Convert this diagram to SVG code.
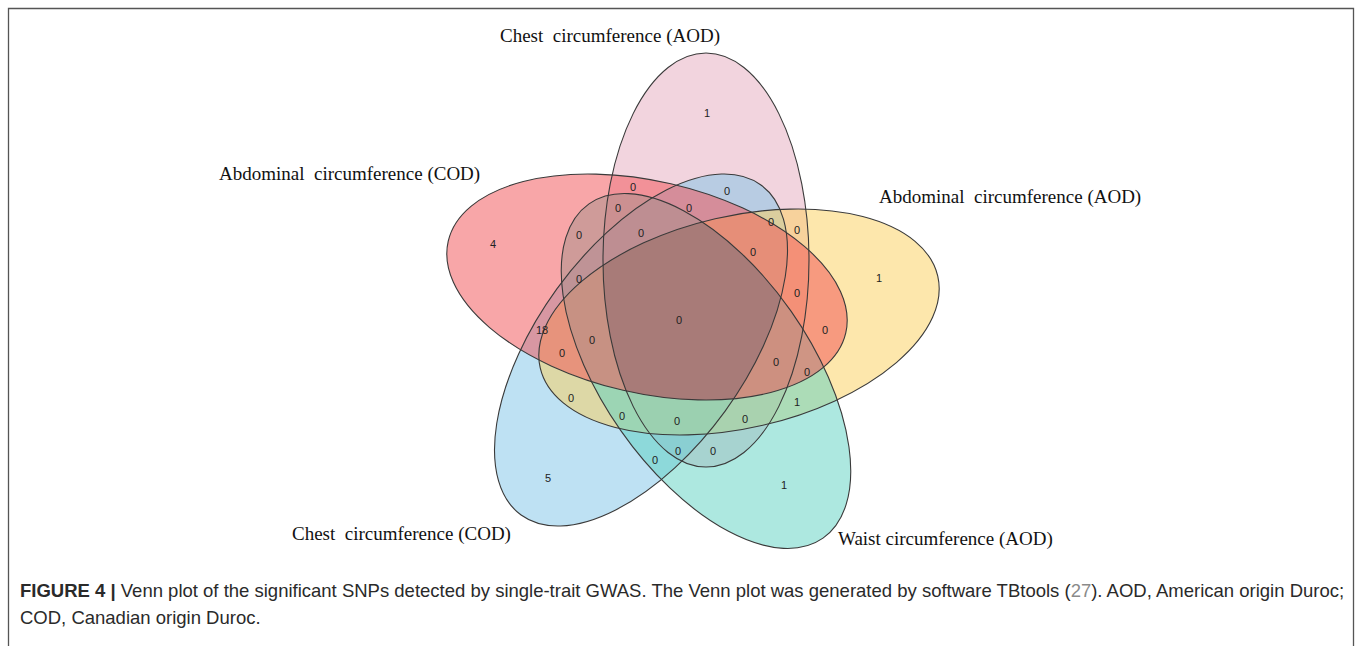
<svg xmlns="http://www.w3.org/2000/svg" width="1357" height="646" viewBox="0 0 1357 646">
<style>
.set{stroke:none;fill-opacity:0.5}
.edge{fill:none;stroke:#3a3a3a;stroke-width:1.1}
.lbl{font-family:"Liberation Serif","Times New Roman",serif;font-size:19px;fill:#111;white-space:pre}
.n{font-family:"Liberation Sans",Arial,sans-serif;font-size:11px;fill:#222;text-anchor:middle;dominant-baseline:central}
.cap{font-family:"Liberation Sans",Arial,sans-serif;font-size:18.5px;fill:#2a2a2a}
.frame{stroke:#555;stroke-width:1.3;fill:none}
</style>
<defs>
<clipPath id="cA"><ellipse cx="706" cy="260" rx="103" ry="207"/></clipPath>
<clipPath id="cB"><ellipse cx="641" cy="350" rx="204" ry="104" transform="rotate(-54 641 350)"/></clipPath>
<clipPath id="cC"><ellipse cx="706" cy="371" rx="204" ry="104" transform="rotate(55 706 371)"/></clipPath>
<clipPath id="cD"><ellipse cx="739" cy="322" rx="204" ry="106" transform="rotate(-13 739 322)"/></clipPath>
</defs>
<rect width="1357" height="646" fill="#fff"/>
<path class="frame" d="M8.5,646 V8.5 H1353.5 V646"/>

<g id="fills">
<ellipse class="set" cx="706" cy="260" rx="103" ry="207" fill="#E5A9BD"/>
<ellipse class="set" cx="641" cy="350" rx="204" ry="104" transform="rotate(-54 641 350)" fill="#7DC3E7"/>
<ellipse class="set" cx="739" cy="322" rx="204" ry="106" transform="rotate(-13 739 322)" fill="#FBCF59"/>
<ellipse class="set" cx="706" cy="371" rx="204" ry="104" transform="rotate(55 706 371)" fill="#5BD1C1"/>
<ellipse class="set" cx="647" cy="287" rx="204" ry="106" transform="rotate(13 647 287)" fill="#F14D51"/>
<g clip-path="url(#cA)"><g clip-path="url(#cB)"><g clip-path="url(#cC)"><g clip-path="url(#cD)">
<ellipse cx="647" cy="287" rx="204" ry="106" transform="rotate(13 647 287)" fill="#A87B78"/>
</g></g></g></g>
</g>

<g id="node-chest-aod">
<ellipse class="edge" cx="706" cy="260" rx="103" ry="207"/>
<text class="lbl" x="500" y="42">Chest  circumference (AOD)</text>
</g>
<g id="node-chest-cod">
<ellipse class="edge" cx="641" cy="350" rx="204" ry="104" transform="rotate(-54 641 350)"/>
<text class="lbl" x="292" y="540">Chest  circumference (COD)</text>
</g>
<g id="node-waist-aod">
<ellipse class="edge" cx="706" cy="371" rx="204" ry="104" transform="rotate(55 706 371)"/>
<text class="lbl" x="838" y="545">Waist circumference (AOD)</text>
</g>
<g id="node-abd-aod">
<ellipse class="edge" cx="739" cy="322" rx="204" ry="106" transform="rotate(-13 739 322)"/>
<text class="lbl" x="879" y="203">Abdominal  circumference (AOD)</text>
</g>
<g id="node-abd-cod">
<ellipse class="edge" cx="647" cy="287" rx="204" ry="106" transform="rotate(13 647 287)"/>
<text class="lbl" x="219" y="180">Abdominal  circumference (COD)</text>
</g>

<g id="counts">
<text class="n" x="707" y="113">1</text>
<text class="n" x="633" y="187">0</text>
<text class="n" x="727" y="191">0</text>
<text class="n" x="618" y="208">0</text>
<text class="n" x="689" y="208">0</text>
<text class="n" x="771" y="222">0</text>
<text class="n" x="797" y="230">0</text>
<text class="n" x="579" y="235">0</text>
<text class="n" x="641" y="233">0</text>
<text class="n" x="493" y="244">4</text>
<text class="n" x="753" y="252">0</text>
<text class="n" x="879" y="278">1</text>
<text class="n" x="579" y="279">0</text>
<text class="n" x="797" y="293">0</text>
<text class="n" x="679" y="320">0</text>
<text class="n" x="542" y="330">18</text>
<text class="n" x="825" y="330">0</text>
<text class="n" x="592" y="340">0</text>
<text class="n" x="562" y="353">0</text>
<text class="n" x="776" y="362">0</text>
<text class="n" x="807" y="372">0</text>
<text class="n" x="571" y="398">0</text>
<text class="n" x="797" y="402">1</text>
<text class="n" x="622" y="416">0</text>
<text class="n" x="677" y="421">0</text>
<text class="n" x="745" y="419">0</text>
<text class="n" x="678" y="451">0</text>
<text class="n" x="713" y="451">0</text>
<text class="n" x="655" y="460">0</text>
<text class="n" x="548" y="478">5</text>
<text class="n" x="784" y="485">1</text>
</g>

<g id="caption">
<text class="cap" x="20" y="597"><tspan font-weight="bold">FIGURE 4 |</tspan> Venn plot of the significant SNPs detected by single-trait GWAS. The Venn plot was generated by software TBtools (<tspan fill="#8a8a8a">27</tspan>). AOD, American origin Duroc;</text>
<text class="cap" x="20" y="624">COD, Canadian origin Duroc.</text>
</g>
</svg>
